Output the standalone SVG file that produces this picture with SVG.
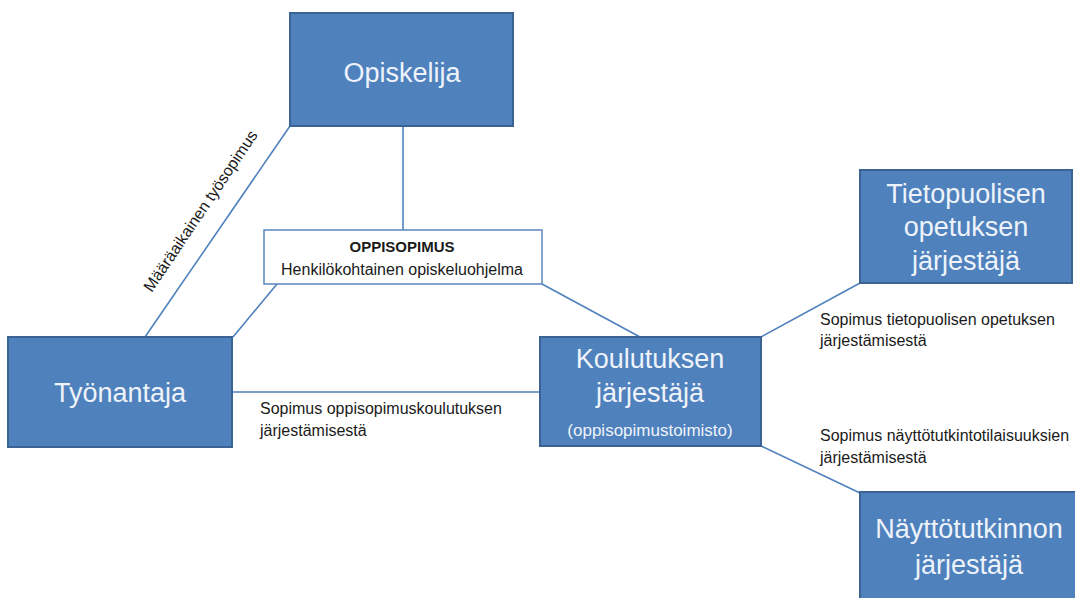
<svg xmlns="http://www.w3.org/2000/svg" width="1075" height="598" viewBox="0 0 1075 598">
<style>
.box{fill:#4f81bd;stroke:#3a6393;stroke-width:2}
.note{fill:#ffffff;stroke:#5b86c0;stroke-width:1.5}
.big{font-family:"Liberation Sans",Arial,sans-serif;font-size:27px;fill:#eef3fa;text-anchor:middle}
.mid{font-family:"Liberation Sans",Arial,sans-serif;font-size:17px;fill:#eef3fa;text-anchor:middle}
.lbl{font-family:"Liberation Sans",Arial,sans-serif;font-size:16px;fill:#1a1a1a}
.lblc{font-family:"Liberation Sans",Arial,sans-serif;font-size:16px;fill:#1a1a1a;text-anchor:middle}
.bold{font-weight:bold;font-size:15px}
.conn{stroke:#4f81bd;stroke-width:1.6;fill:none}
</style>
<rect width="1075" height="598" fill="#ffffff"/>
<g id="connectors">
<line class="conn" x1="403" y1="126" x2="403" y2="230"/>
<line class="conn" x1="290" y1="126" x2="145" y2="337"/>
<line class="conn" x1="277" y1="284" x2="233" y2="337"/>
<line class="conn" x1="542" y1="284" x2="640" y2="337"/>
<line class="conn" x1="232" y1="392" x2="540" y2="392"/>
<line class="conn" x1="761" y1="337" x2="860" y2="283"/>
<line class="conn" x1="761" y1="446" x2="860" y2="493"/>
<text class="lblc" transform="translate(205,214) rotate(-56)">Määräaikainen työsopimus</text>
<text class="lbl" x="260" y="414">Sopimus oppisopimuskoulutuksen</text>
<text class="lbl" x="260" y="436">järjestämisestä</text>
<text class="lbl" x="820" y="325">Sopimus tietopuolisen opetuksen</text>
<text class="lbl" x="820" y="346">järjestämisestä</text>
<text class="lbl" x="820" y="441">Sopimus näyttötutkintotilaisuuksien</text>
<text class="lbl" x="820" y="463">järjestämisestä</text>
</g>
<g id="opiskelija">
<rect class="box" x="290" y="13" width="223" height="113"/>
<text class="big" x="402" y="82">Opiskelija</text>
</g>
<g id="oppisopimus">
<rect class="note" x="264" y="230" width="278" height="54"/>
<text class="lblc bold" x="402" y="252">OPPISOPIMUS</text>
<text class="lblc" x="402" y="275">Henkilökohtainen opiskeluohjelma</text>
</g>
<g id="tyonantaja">
<rect class="box" x="8" y="337" width="224" height="110"/>
<text class="big" x="120" y="402">Työnantaja</text>
</g>
<g id="koulutuksen">
<rect class="box" x="540" y="337" width="221" height="109"/>
<text class="big" x="650" y="368">Koulutuksen</text>
<text class="big" x="650" y="402">järjestäjä</text>
<text class="mid" x="650" y="436">(oppisopimustoimisto)</text>
</g>
<g id="tietopuolisen">
<rect class="box" x="860" y="170" width="212" height="113"/>
<text class="big" x="966" y="203">Tietopuolisen</text>
<text class="big" x="966" y="236">opetuksen</text>
<text class="big" x="966" y="270">järjestäjä</text>
</g>
<g id="nayttotutkinnon">
<rect class="box" x="860" y="492" width="225" height="115"/>
<text class="big" x="969" y="538">Näyttötutkinnon</text>
<text class="big" x="969" y="574">järjestäjä</text>
</g>
</svg>
